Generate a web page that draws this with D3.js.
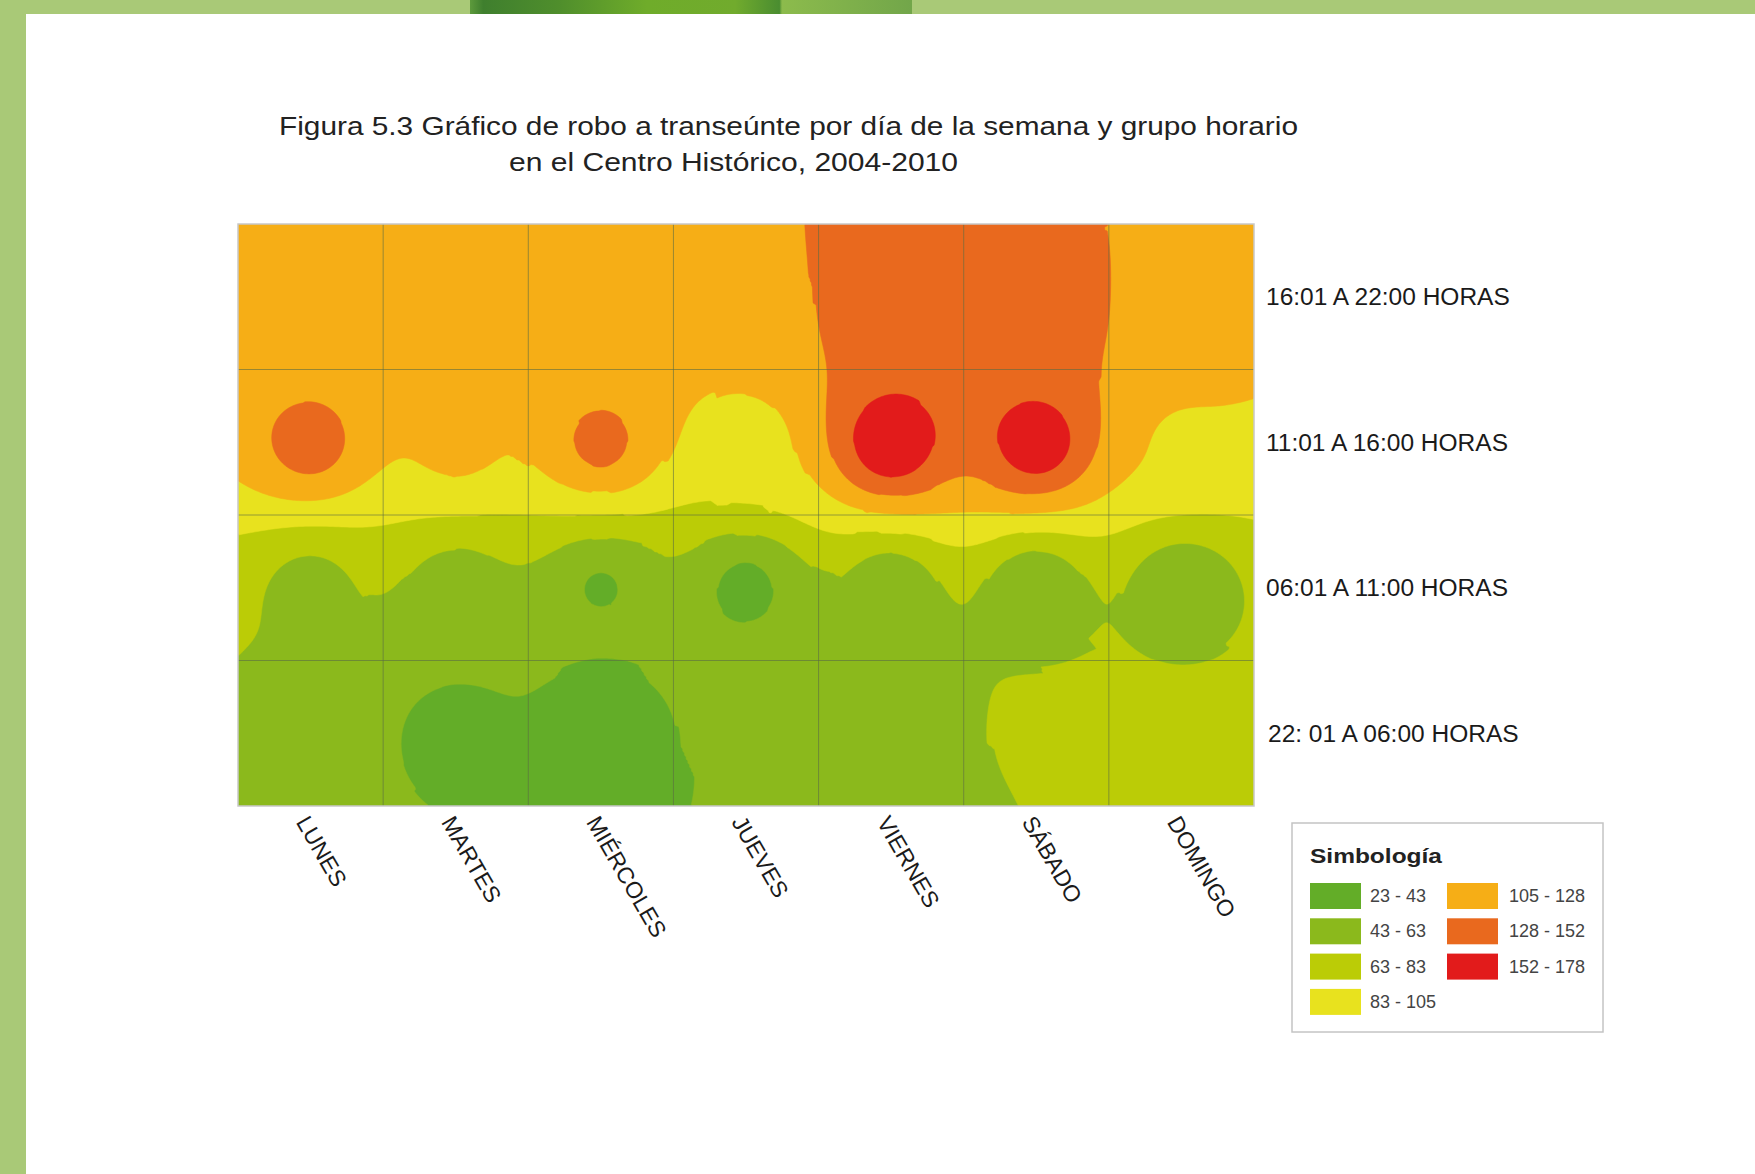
<!DOCTYPE html>
<html>
<head>
<meta charset="utf-8">
<script src="https://cdn.jsdelivr.net/npm/d3@7"></script>
<style>
  body { margin: 0; background: #fff; }
  svg { display: block; font-family: "Liberation Sans", Arial, sans-serif; }
</style>
</head>
<body>
<svg id="chart" width="1755" height="1174"></svg>
<script>
// robos a transeunte, 2004-2010, por dia y grupo horario
const days = ["LUNES", "MARTES", "MIÉRCOLES", "JUEVES", "VIERNES", "SÁBADO", "DOMINGO"];
const hours = ["16:01 A 22:00 HORAS", "11:01 A 16:00 HORAS", "06:01 A 11:00 HORAS", "22: 01 A 06:00 HORAS"];

const robos1622 = [117, 116, 117, 118, 150, 147, 117];
const robos1116 = [141, 112, 137, 94, 177, 171, 103];
const robos0611 = [55, 52, 41, 36, 48, 43.5, 43.5];
const robos2206 = [48, 32, 24, 45, 49, 65, 64];

const breaks = [23, 43, 63, 83, 105, 128, 152, 178];
const classLabels = ["23 - 43", "43 - 63", "63 - 83", "83 - 105", "105 - 128", "128 - 152", "152 - 178"];
const classColors = ["#63ad28", "#8bb91c", "#bbcc06", "#e8e21e", "#f6ae16", "#e9691e", "#e21b1b"];

const svg = d3.select("#chart");

// marco verde de la pagina
svg.append("rect").attr("x", 0).attr("y", 0).attr("width", 1755).attr("height", 14).attr("fill", "#a9c977");
svg.append("rect").attr("x", 0).attr("y", 0).attr("width", 26).attr("height", 1174).attr("fill", "#a9c977");
const grad = svg.append("defs").append("linearGradient").attr("id", "tab");
[["0%", "#5d9a3c"], ["3%", "#3f7f2e"], ["20%", "#4f8e2c"], ["40%", "#6fac2a"], ["60%", "#71ab2d"],
 ["70%", "#4a8d30"], ["70.6%", "#8cbb4c"], ["100%", "#72a64a"]]
  .forEach(s => grad.append("stop").attr("offset", s[0]).attr("stop-color", s[1]));
svg.append("rect").attr("x", 470).attr("y", 0).attr("width", 442).attr("height", 14).attr("fill", "url(#tab)");

// titulo
svg.append("text").attr("x", 279).attr("y", 135).attr("font-size", 26).attr("fill", "#222")
  .attr("textLength", 1019).attr("lengthAdjust", "spacingAndGlyphs")
  .text("Figura 5.3 Gráfico de robo a transeúnte por día de la semana y grupo horario");
svg.append("text").attr("x", 509).attr("y", 171).attr("font-size", 26).attr("fill", "#222")
  .attr("textLength", 449).attr("lengthAdjust", "spacingAndGlyphs")
  .text("en el Centro Histórico, 2004-2010");

const plot = { left: 238, top: 224, right: 1254, bottom: 806 };

const x = d3.scaleBand().domain(days).range([plot.left, plot.right]);
const y = d3.scaleBand().domain(hours).range([plot.top, plot.bottom]);

const rows = [robos1622, robos1116, robos0611, robos2206];
const points = [];
rows.forEach((vals, r) => {
  vals.forEach((v, c) => {
    points.push({
      px: x(days[c]) + x.bandwidth() / 2,
      py: y(hours[r]) + y.bandwidth() / 2,
      value: v
    });
  });
});

// superficie IDW (potencia 2, 12 vecinos) sobre una malla de 2px
const power = 2;
const g = 2;
const nx = Math.ceil((plot.right - plot.left) / g);
const ny = Math.ceil((plot.bottom - plot.top) / g);
const grid = new Float64Array(nx * ny);
for (let j = 0; j < ny; j++) {
  for (let i = 0; i < nx; i++) {
    const gx = plot.left + (i + 0.5) * g;
    const gy = plot.top + (j + 0.5) * g;
    const ds = points.map(p => ({ d: Math.hypot(p.px - gx, p.py - gy), v: p.value }))
      .sort((a, b) => a.d - b.d).slice(0, 12);
    let num = 0, den = 0, hit = null;
    for (const o of ds) {
      if (o.d < 1e-6) { hit = o.v; break; }
      const w = 1 / Math.pow(o.d, power);
      num += w * o.v;
      den += w;
    }
    grid[j * nx + i] = hit !== null ? hit : num / den;
  }
}

const contours = d3.contours().size([nx, ny]).thresholds(breaks.slice(0, -1))(grid);
const path = d3.geoPath(d3.geoIdentity().scale(g).translate([plot.left, plot.top]));

svg.append("clipPath").attr("id", "clip").append("rect")
  .attr("x", plot.left).attr("y", plot.top)
  .attr("width", plot.right - plot.left).attr("height", plot.bottom - plot.top);

svg.append("g").attr("clip-path", "url(#clip)")
  .selectAll("path")
  .data(contours)
  .join("path")
  .attr("d", path)
  .attr("fill", d => classColors[breaks.indexOf(d.value)])
  .attr("stroke", d => classColors[breaks.indexOf(d.value)])
  .attr("stroke-width", 0.5);

// reticula
const gridG = svg.append("g").attr("stroke", "#5a6a45").attr("stroke-opacity", 0.6).attr("stroke-width", 1);
days.slice(1).forEach(dd => {
  gridG.append("line").attr("x1", x(dd)).attr("x2", x(dd)).attr("y1", plot.top).attr("y2", plot.bottom);
});
hours.slice(1).forEach(h => {
  gridG.append("line").attr("x1", plot.left).attr("x2", plot.right).attr("y1", y(h)).attr("y2", y(h));
});
svg.append("rect").attr("x", plot.left).attr("y", plot.top)
  .attr("width", plot.right - plot.left).attr("height", plot.bottom - plot.top)
  .attr("fill", "none").attr("stroke", "#c8c8c8").attr("stroke-width", 1.5);

// etiquetas de horario
svg.append("g").selectAll("text")
  .data(hours)
  .join("text")
  .attr("x", (d, i) => i === 3 ? 1268 : 1266)
  .attr("y", d => y(d) + y.bandwidth() / 2)
  .attr("dominant-baseline", "central")
  .attr("font-size", 24.5)
  .attr("fill", "#1a1a1a")
  .text(d => d);

// etiquetas de dias
svg.append("g").selectAll("text")
  .data(days)
  .join("text")
  .attr("transform", d => "translate(" + (x(d) + x.bandwidth() / 2 - 15) + ",822) rotate(60)")
  .attr("font-size", 23)
  .attr("fill", "#1a1a1a")
  .text(d => d);

// leyenda
const leg = svg.append("g");
leg.append("rect").attr("x", 1292).attr("y", 823).attr("width", 311).attr("height", 209)
  .attr("fill", "#fff").attr("stroke", "#c4c4c4").attr("stroke-width", 1.5);
leg.append("text").attr("x", 1310).attr("y", 863).attr("font-size", 21).attr("font-weight", "bold")
  .attr("fill", "#222").attr("textLength", 132).attr("lengthAdjust", "spacingAndGlyphs").text("Simbología");
const item = leg.selectAll("g.item")
  .data(classLabels)
  .join("g")
  .attr("class", "item")
  .attr("transform", (d, i) => i < 4
    ? "translate(1310," + (883 + i * 35.3) + ")"
    : "translate(1447," + (883 + (i - 4) * 35.3) + ")");
item.append("rect").attr("width", 51).attr("height", 26).attr("fill", (d, i) => classColors[i]);
item.append("text").attr("x", (d, i) => i < 4 ? 60 : 62).attr("y", 13)
  .attr("dominant-baseline", "central").attr("font-size", 18).attr("fill", "#444").text(d => d);
</script>
</body>
</html>
